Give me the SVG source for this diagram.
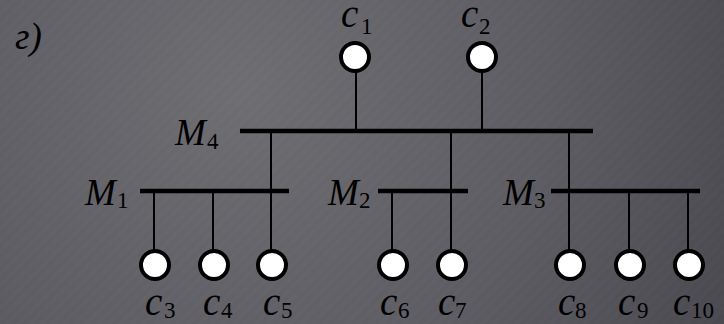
<svg xmlns="http://www.w3.org/2000/svg" width="724" height="324" viewBox="0 0 724 324">
  <defs>
    <radialGradient id="bg" cx="240" cy="90" r="560" gradientUnits="userSpaceOnUse">
      <stop offset="0" stop-color="#6e6d72"/>
      <stop offset="0.55" stop-color="#5d5c62"/>
      <stop offset="1" stop-color="#48474e"/>
    </radialGradient>
    <pattern id="stripes" width="8" height="8" patternUnits="userSpaceOnUse" patternTransform="rotate(45)">
      <rect width="4" height="8" fill="#ffffff" opacity="0.012"/>
    </pattern>
  </defs>
  <style>
    .lbl { font-family: "Liberation Serif", "Times New Roman", serif; font-style: italic; font-size: 37px; fill: #000; }
    .cl { font-size: 39px; }
    .sub { font-family: "Liberation Serif", "Times New Roman", serif; font-style: normal; font-size: 23px; fill: #000; }
    .node { fill: #fff; stroke: #000; stroke-width: 4; }
    .bar { stroke: #000; stroke-width: 4.5; fill: none; }
    .wire { stroke: #000; stroke-width: 2; fill: none; }
  </style>
  <rect width="724" height="324" fill="url(#bg)"/>
  <rect width="724" height="324" fill="url(#stripes)"/>

  <text class="lbl" x="15" y="49">г)</text>

  <g id="connectors">
    <line class="wire" x1="356" y1="71" x2="356" y2="131"/>
    <line class="wire" x1="482" y1="71" x2="482" y2="131"/>
    <line class="wire" x1="271" y1="131" x2="271" y2="251"/>
    <line class="wire" x1="451" y1="131" x2="451" y2="251"/>
    <line class="wire" x1="569" y1="131" x2="569" y2="251"/>
    <line class="wire" x1="154" y1="191" x2="154" y2="251"/>
    <line class="wire" x1="213" y1="191" x2="213" y2="251"/>
    <line class="wire" x1="392" y1="191" x2="392" y2="251"/>
    <line class="wire" x1="629" y1="191" x2="629" y2="251"/>
    <line class="wire" x1="688" y1="191" x2="688" y2="251"/>
  </g>

  <g id="M4">
    <line class="bar" x1="240" y1="131" x2="593" y2="131"/>
    <text class="lbl" x="175" y="145">M<tspan class="sub" x="207" y="149">4</tspan></text>
  </g>
  <g id="M1">
    <line class="bar" x1="140" y1="191" x2="289" y2="191"/>
    <text class="lbl" x="85" y="205">M<tspan class="sub" x="117" y="208">1</tspan></text>
  </g>
  <g id="M2">
    <line class="bar" x1="378" y1="191" x2="468" y2="191"/>
    <text class="lbl" x="328" y="205">M<tspan class="sub" x="359" y="208">2</tspan></text>
  </g>
  <g id="M3">
    <line class="bar" x1="551" y1="191" x2="700" y2="191"/>
    <text class="lbl" x="503" y="205">M<tspan class="sub" x="534" y="208">3</tspan></text>
  </g>

  <g id="c1">
    <circle class="node" cx="355" cy="57" r="14"/>
    <text class="lbl cl" x="341" y="27">c<tspan class="sub" x="361" y="34">1</tspan></text>
  </g>
  <g id="c2">
    <circle class="node" cx="482" cy="57" r="14"/>
    <text class="lbl cl" x="461" y="27">c<tspan class="sub" x="479" y="34">2</tspan></text>
  </g>
  <g id="c3">
    <circle class="node" cx="155" cy="265" r="14"/>
    <text class="lbl cl" x="145" y="315">c<tspan class="sub" x="164" y="318">3</tspan></text>
  </g>
  <g id="c4">
    <circle class="node" cx="214" cy="265" r="14"/>
    <text class="lbl cl" x="203" y="315">c<tspan class="sub" x="221" y="318">4</tspan></text>
  </g>
  <g id="c5">
    <circle class="node" cx="272" cy="265" r="14"/>
    <text class="lbl cl" x="263" y="315">c<tspan class="sub" x="281" y="318">5</tspan></text>
  </g>
  <g id="c6">
    <circle class="node" cx="393" cy="265" r="14"/>
    <text class="lbl cl" x="380" y="315">c<tspan class="sub" x="398" y="318">6</tspan></text>
  </g>
  <g id="c7">
    <circle class="node" cx="452" cy="265" r="14"/>
    <text class="lbl cl" x="438" y="315">c<tspan class="sub" x="455" y="318">7</tspan></text>
  </g>
  <g id="c8">
    <circle class="node" cx="570" cy="265" r="14"/>
    <text class="lbl cl" x="558" y="315">c<tspan class="sub" x="575" y="318">8</tspan></text>
  </g>
  <g id="c9">
    <circle class="node" cx="630" cy="265" r="14"/>
    <text class="lbl cl" x="618" y="315">c<tspan class="sub" x="637" y="318">9</tspan></text>
  </g>
  <g id="c10">
    <circle class="node" cx="689" cy="265" r="14"/>
    <text class="lbl cl" x="673" y="315">c<tspan class="sub" x="691" y="318">10</tspan></text>
  </g>
</svg>
